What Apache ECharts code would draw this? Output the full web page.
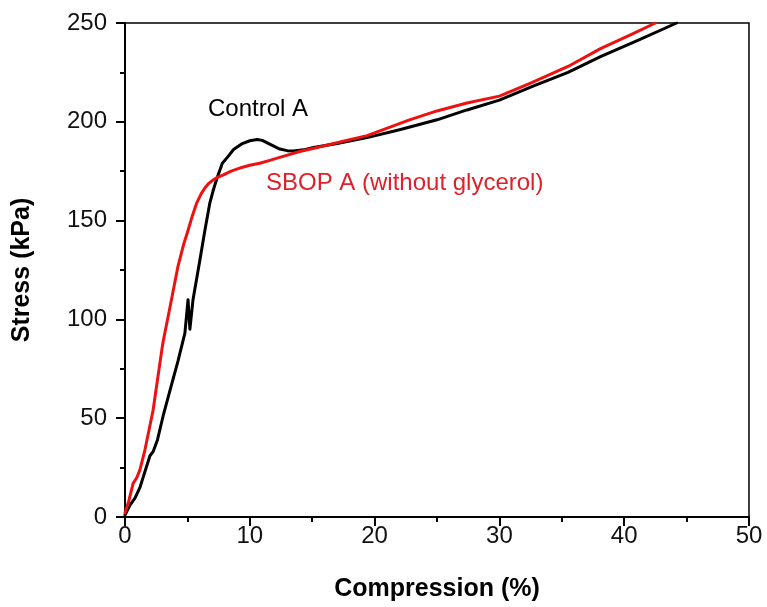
<!DOCTYPE html>
<html>
<head>
<meta charset="utf-8">
<script src="https://cdn.jsdelivr.net/npm/echarts@6/dist/echarts.min.js"></script>
<style>html,body{margin:0;padding:0;background:#fff;}#c{width:767px;height:607px;}</style>
</head>
<body>
<div id="c"></div>
<script>
var xTitle = 'Compression (%)';
var yTitle = 'Stress (kPa)';
var controlName = 'Control A';
var sbopName = 'SBOP A (without glycerol)';
var controlA = [[0,1],[0.4,6],[0.8,9.6],[1.2,15],[1.6,23],[2.0,31],[2.25,33],[2.6,39],[3.05,51],[3.6,64],[4.25,79],[4.8,93],[5.05,110],[5.2,95],[5.45,110],[6.0,130],[6.4,145],[6.8,159],[7.1,166],[7.4,172],[7.8,179],[8.2,182],[8.7,186],[9.4,189],[10.0,190.4],[10.6,191],[11.0,190.6],[11.4,189.3],[12.0,187.4],[12.4,186.2],[13.0,185.4],[13.5,185.2],[14.3,185.8],[15.1,187],[17,189],[19.4,192],[22,196],[25,201],[27.4,206],[30,211],[32.7,218],[35.5,225],[38.1,233],[41,241],[44.2,250]];
var sbopA = [[0,2],[0.3,8],[0.65,17],[0.95,20],[1.2,24],[1.6,34],[2.25,54],[2.95,84.5],[3.05,88.6],[3.6,106],[4.25,127],[4.7,138],[5.05,145],[5.4,152.5],[5.75,159],[6.1,163.5],[6.4,166.5],[6.7,168.8],[7.05,170.5],[7.45,172],[7.85,173],[8.5,175],[9.2,176.6],[10.0,178],[10.8,179],[11.6,180.5],[12.4,182],[14,185],[15.4,187],[17.4,190],[19.4,193],[22.8,201],[25,205.5],[27.4,209.5],[30,213],[32.5,219.6],[35.5,228],[38.1,237],[40.5,244],[42.5,250]];

var chart = echarts.init(document.getElementById('c'));
var fontFam = 'Liberation Sans, Arial, sans-serif';
chart.setOption({
  animation: false,
  grid: {left: 125, top: 23, right: 18, bottom: 90, show: true, borderColor: '#000', borderWidth: 1.5, backgroundColor: 'transparent'},
  xAxis: {
    type: 'value', min: 0, max: 50, interval: 10,
    name: xTitle, nameLocation: 'middle', nameGap: 60,
    nameTextStyle: {fontFamily: fontFam, fontSize: 25, fontWeight: 'bold', color: '#000'},
    axisLine: {show: true, lineStyle: {color: '#000', width: 2}},
    axisTick: {show: true, inside: false, length: 9, lineStyle: {color: '#000', width: 2}},
    minorTick: {show: true, splitNumber: 2, length: 5, lineStyle: {color: '#000', width: 2}},
    axisLabel: {fontFamily: fontFam, fontSize: 24, color: '#111', margin: 7},
    splitLine: {show: false}
  },
  yAxis: {
    type: 'value', min: 0, max: 250, interval: 50,
    name: yTitle, nameLocation: 'middle', nameGap: 90, nameRotate: 90,
    nameTextStyle: {fontFamily: fontFam, fontSize: 25, fontWeight: 'bold', color: '#000'},
    axisLine: {show: true, lineStyle: {color: '#000', width: 2}},
    axisTick: {show: true, inside: false, length: 9, lineStyle: {color: '#000', width: 2}},
    minorTick: {show: true, splitNumber: 2, length: 5, lineStyle: {color: '#000', width: 2}},
    axisLabel: {fontFamily: fontFam, fontSize: 24, color: '#111', margin: 18},
    splitLine: {show: false}
  },
  series: [
    {name: controlName, type: 'line', data: controlA, showSymbol: false, smooth: false, clip: true,
     lineStyle: {color: '#000', width: 3, join: 'round', cap: 'round'}},
    {name: sbopName, type: 'line', data: sbopA, showSymbol: false, smooth: false, clip: true,
     lineStyle: {color: '#ee1111', width: 3, join: 'round', cap: 'round'}}
  ],
  graphic: [
    {type: 'text', left: 208, top: 97, style: {text: controlName, fontFamily: fontFam, fontSize: 24, fill: '#000'}},
    {type: 'text', left: 266, top: 171, style: {text: sbopName, fontFamily: fontFam, fontSize: 24, fill: '#e0202a'}}
  ]
});
</script>
</body>
</html>
